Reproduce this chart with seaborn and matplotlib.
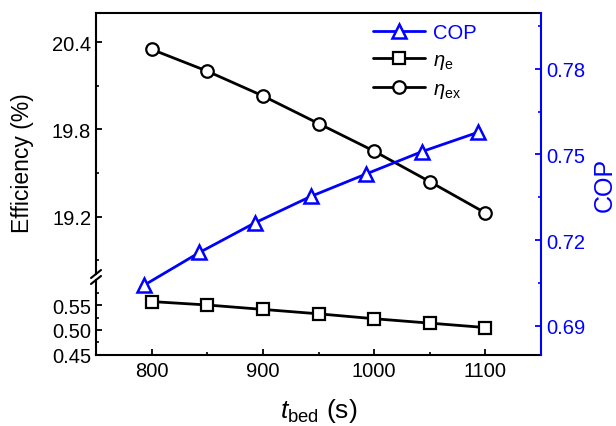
import matplotlib
matplotlib.use("Agg")
import matplotlib.pyplot as plt
from matplotlib.ticker import FixedLocator
import seaborn as sns
import pandas as pd

# ---------------- data ----------------
t_bed = [800, 850, 900, 950, 1000, 1050, 1100]
eta_e = [0.558, 0.551, 0.542, 0.533, 0.523, 0.514, 0.505]
eta_ex = [20.35, 20.20, 20.03, 19.84, 19.65, 19.44, 19.225]
t_bed_cop = [793, 843, 893, 943, 993, 1043, 1093]
cop = [0.7042, 0.7157, 0.7261, 0.7353, 0.7432, 0.7510, 0.7577]

x_ticks = [800, 900, 1000, 1100]
top_ticks = [19.2, 19.8, 20.4]
bot_ticks = [0.45, 0.50, 0.55]
cop_ticks = [0.69, 0.72, 0.75, 0.78]

# ---------------- style ----------------
sns.set_theme(style="ticks")
plt.rcParams["font.family"] = ["Liberation Sans", "DejaVu Sans"]
plt.rcParams["mathtext.fontset"] = "custom"
plt.rcParams["mathtext.rm"] = "Liberation Sans"
plt.rcParams["mathtext.it"] = "Liberation Sans:italic"
plt.rcParams["axes.linewidth"] = 1.5
for k in ("text.color", "axes.labelcolor", "xtick.color", "ytick.color",
          "axes.edgecolor"):
    plt.rcParams[k] = "black"

BLUE = "#0000FF"
FS_TICK = 14.5

fig = plt.figure(figsize=(6.16, 4.27), dpi=100)
W_PX, H_PX = 616, 427
L = 96 / W_PX
R = 541 / W_PX
def fy(p):
    return 1 - p / H_PX

y_top, y_brk_hi, y_brk_lo, y_bot = 14, 275, 281, 355.5
ax_top = fig.add_axes([L, fy(y_brk_hi), R - L, fy(y_top) - fy(y_brk_hi)])
ax_bot = fig.add_axes([L, fy(y_bot), R - L, fy(y_brk_lo) - fy(y_bot)])
ax_cop = fig.add_axes([L, fy(y_bot), R - L, fy(y_top) - fy(y_bot)])
ax_cop.patch.set_alpha(0)

df_e = pd.DataFrame({"t": t_bed, "v": eta_e})
df_ex = pd.DataFrame({"t": t_bed, "v": eta_ex})
df_c = pd.DataFrame({"t": t_bed_cop, "v": cop})

mk = dict(markersize=9, markerfacecolor="white", markeredgewidth=1.6, linewidth=2)
sns.lineplot(data=df_ex, x="t", y="v", ax=ax_top, color="black", marker="o",
             markeredgecolor="black", label=r"$\eta_{\rm ex}$", **mk)
sns.lineplot(data=df_e, x="t", y="v", ax=ax_bot, color="black", marker="s",
             markeredgecolor="black", label=r"$\eta_{\rm e}$", **mk)
sns.lineplot(data=df_c, x="t", y="v", ax=ax_cop, color=BLUE, marker="^",
             markeredgecolor=BLUE, label="COP", markersize=10,
             markerfacecolor="white", markeredgewidth=1.8, linewidth=2)

for ax in (ax_top, ax_bot, ax_cop):
    ax.set_xlim(750, 1150)
    ax.set_xlabel("")
    ax.set_ylabel("")
    if ax.get_legend():
        ax.get_legend().remove()

ax_top.set_ylim(18.805, 20.60)
ax_bot.set_ylim(0.45, 0.602)
ax_cop.set_ylim(0.680, 0.7995)

# spines
ax_top.spines["bottom"].set_visible(False)
ax_top.spines["right"].set_visible(False)
ax_bot.spines["top"].set_visible(False)
ax_bot.spines["right"].set_visible(False)
for s in ("left", "top", "bottom"):
    ax_cop.spines[s].set_visible(False)
ax_cop.spines["right"].set_color(BLUE)

tick_kw = dict(direction="in", labelsize=FS_TICK, width=1.3)
# top axes
ax_top.set_xticks([])
ax_top.yaxis.set_major_locator(FixedLocator(top_ticks))
ax_top.yaxis.set_minor_locator(FixedLocator([18.9, 19.5, 20.1]))
ax_top.tick_params(axis="y", which="major", length=4, **tick_kw)
ax_top.tick_params(axis="y", which="minor", length=2.5, direction="in", width=1.2)
ax_top.set_yticklabels([f"{v:.1f}" for v in top_ticks])
# bottom axes
ax_bot.xaxis.set_major_locator(FixedLocator(x_ticks))
ax_bot.xaxis.set_minor_locator(FixedLocator([850, 950, 1050]))
ax_bot.yaxis.set_major_locator(FixedLocator(bot_ticks))
ax_bot.yaxis.set_minor_locator(FixedLocator([0.475, 0.525, 0.575]))
ax_bot.tick_params(axis="both", which="major", length=4, **tick_kw)
ax_bot.tick_params(axis="both", which="minor", length=2.5, direction="in", width=1.2)
ax_bot.set_yticklabels([f"{v:.2f}" for v in bot_ticks])
ax_bot.set_xticklabels([str(v) for v in x_ticks])
ax_bot.tick_params(axis="x", pad=5)
# cop axes
ax_cop.set_xticks([])
ax_cop.yaxis.tick_right()
ax_cop.yaxis.set_major_locator(FixedLocator(cop_ticks))
ax_cop.yaxis.set_minor_locator(FixedLocator([0.705, 0.735, 0.765, 0.795]))
ax_cop.tick_params(axis="y", which="major", length=4, colors=BLUE, **tick_kw)
ax_cop.tick_params(axis="y", which="minor", length=2.5, direction="in", width=1.2, colors=BLUE)
ax_cop.set_yticklabels([f"{v:.2f}" for v in cop_ticks])

# break marks
for yp in (y_brk_hi, y_brk_lo):
    fig.add_artist(plt.Line2D([(96 - 5) / W_PX, (96 + 5) / W_PX],
                              [fy(yp + 4), fy(yp - 4)], color="black", lw=1.5,
                              transform=fig.transFigure))

# labels
fig.text(23 / W_PX, fy(163), "Efficiency (%)", rotation=90, ha="center",
         va="center", fontsize=16.5)
fig.text(605 / W_PX, fy(185), "COP", rotation=90, ha="center", va="center",
         fontsize=18, color=BLUE)
fig.text(318.5 / W_PX, fy(411), r"$t_{\rm bed}$ (s)", ha="center", va="center",
         fontsize=19)

# legend
h1, l1 = ax_cop.get_legend_handles_labels()
h2, l2 = ax_bot.get_legend_handles_labels()
h3, l3 = ax_top.get_legend_handles_labels()
leg = ax_cop.legend(h1 + h2 + h3, l1 + l2 + l3, loc="upper left",
                    bbox_to_anchor=(373 / W_PX, fy(24)),
                    bbox_transform=fig.transFigure, frameon=False,
                    fontsize=FS_TICK, handlelength=2.6, handletextpad=0.4,
                    borderpad=0, borderaxespad=0, labelspacing=0.4)
leg.get_texts()[0].set_color(BLUE)

fig.savefig("out.png", dpi=100)
